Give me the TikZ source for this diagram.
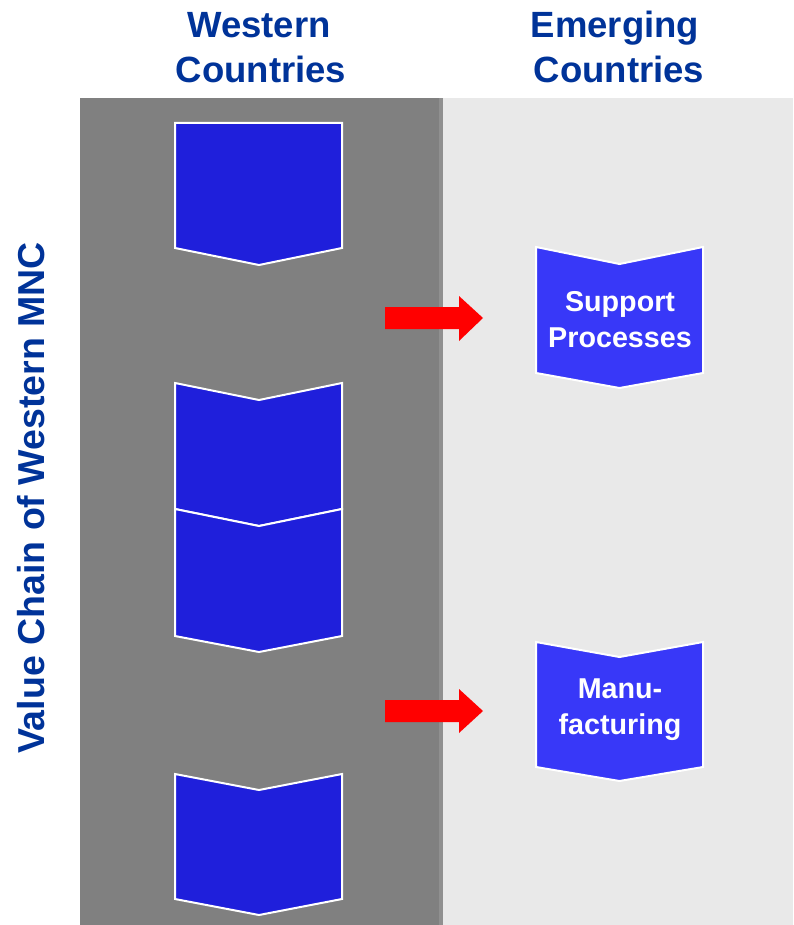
\documentclass[tikz,border=0pt]{standalone}
\usepackage{fontspec}
\setmainfont{Liberation Sans}
\begin{document}
\begin{tikzpicture}[x=1pt,y=-1pt,
  header/.style={font=\fontsize{36.5}{44}\selectfont\bfseries, text=headblue, inner sep=0pt},
  stage/.style={fill=stageblue, draw=white, line width=2pt, line join=miter},
  moved/.style={fill=movedblue, draw=white, line width=2pt, line join=miter},
  boxtext/.style={font=\fontsize{28.7}{36}\selectfont\bfseries, text=white, align=center, inner sep=0pt},
  relocarrow/.style={fill=red, draw=none}]
\definecolor{headblue}{HTML}{003399}
\definecolor{stageblue}{HTML}{1F1FDB}
\definecolor{movedblue}{HTML}{3838F8}
\definecolor{darkpanel}{HTML}{808080}
\definecolor{edgepanel}{HTML}{909090}
\definecolor{lightpanel}{HTML}{E9E9E9}

\useasboundingbox (0,0) rectangle (793,925);
\fill[white] (0,0) rectangle (793,925);

% panels
\fill[darkpanel] (80,98) rectangle (439,925);
\fill[edgepanel] (439,98) rectangle (443,925);
\fill[lightpanel] (443,98) rectangle (793,925);

% column headers
\node[header, anchor=base] (hw1) at (259,38) {Western};
\node[header, anchor=base] (hw2) at (261,83) {Countries};
\node[header, anchor=base] (he1) at (615,38) {Emerging};
\node[header, anchor=base] (he2) at (619,83) {Countries};

% side title
\node[font=\fontsize{37.5}{40}\selectfont\bfseries, text=headblue, rotate=90, inner sep=0pt]
  (side) at (31.5,498) {Value Chain of Western MNC};

% value chain stages in the western column
\draw[stage] (175,123) -- (342,123) -- (342,248) -- (259,265) -- (175,248) -- cycle;
\draw[stage] (175,383) -- (259,400) -- (342,383) -- (342,509) -- (259,526) -- (175,509) -- cycle;
\draw[stage] (175,509) -- (259,526) -- (342,509) -- (342,636) -- (259,652) -- (175,636) -- cycle;
\draw[stage] (175,774) -- (259,790) -- (342,774) -- (342,899) -- (259,915) -- (175,899) -- cycle;

% relocated stages
\draw[moved] (536,247) -- (619.5,264) -- (703,247) -- (703,373) -- (619.5,388) -- (536,373) -- cycle;
\node[boxtext] (support) at (620,320) {Support\\Processes};
\draw[moved] (536,642) -- (619.5,657) -- (703,642) -- (703,767) -- (619.5,781) -- (536,767) -- cycle;
\node[boxtext] (manu) at (620,710) {Manu-\\facturing};

% relocation arrows
\fill[relocarrow] (385,307) -- (459,307) -- (459,296) -- (483,318) -- (459,341) -- (459,329) -- (385,329) -- cycle;
\fill[relocarrow] (385,700) -- (459,700) -- (459,689) -- (483,711) -- (459,733) -- (459,722) -- (385,722) -- cycle;
\end{tikzpicture}
\end{document}
